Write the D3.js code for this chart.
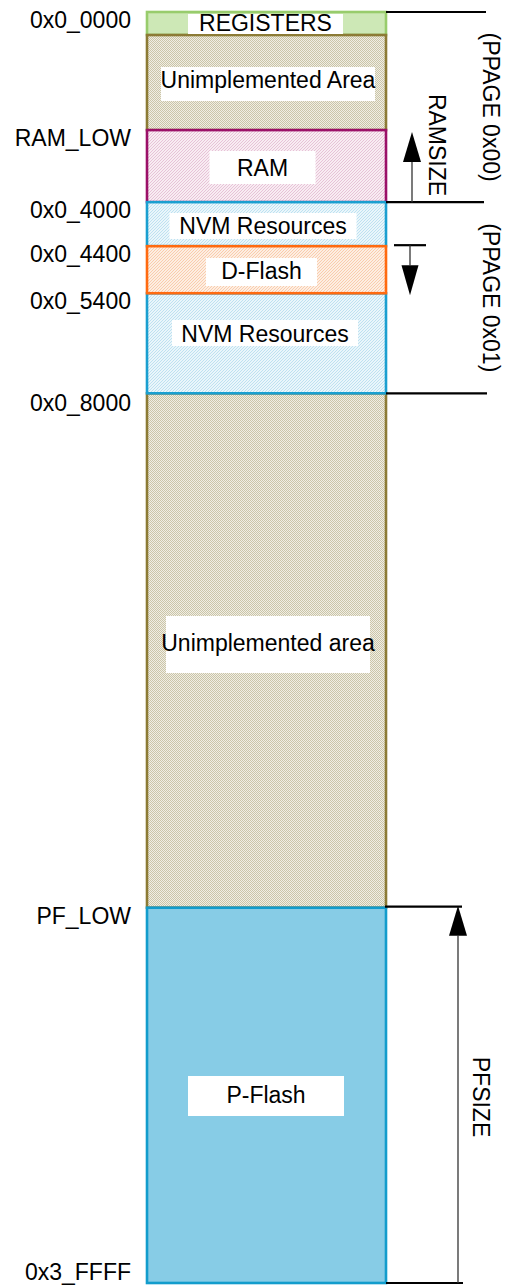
<!DOCTYPE html>
<html><head><meta charset="utf-8">
<script src="https://cdn.jsdelivr.net/npm/d3@7"></script>
<style>
html,body{margin:0;padding:0;background:#fff;}
text{font-family:"Liberation Sans",Arial,sans-serif;fill:#000;}
</style>
</head><body>
<svg id="c" width="511" height="1288"></svg>
<script>
// ---- data ----
const blockNames  = ["REGISTERS","Unimplemented Area","RAM","NVM Resources","D-Flash","NVM Resources","Unimplemented area","P-Flash"];
const blockSpans  = [23, 95, 72, 44, 47, 100, 514, 375];   // relative display span of each region
const blockKinds  = ["reg","unimp","ram","nvm","dflash","nvm","unimp","pflash"];
const addrLabels  = ["0x0_0000","RAM_LOW","0x0_4000","0x0_4400","0x0_5400","0x0_8000","PF_LOW","0x3_FFFF"];
const addrAt      = [0, 2, 3, 4, 5, 6, 7, 8];               // boundary index for each address label
const pageLabels  = ["(PPAGE 0x00)","(PPAGE 0x01)"];
const pageRanges  = [[0,3],[3,6]];
const sizeLabels  = ["RAMSIZE","PFSIZE"];

// ---- styles ----
const style = {
  reg:   {stroke:"#98cc6c", fill:"#cde8b6"},
  unimp: {stroke:"#8c7b35", fill:"url(#pUnimp)"},
  ram:   {stroke:"#9b1068", fill:"url(#pRam)"},
  nvm:   {stroke:"#1a9fd0", fill:"url(#pNvm)"},
  dflash:{stroke:"#ff6a10", fill:"url(#pDf)"},
  pflash:{stroke:"#129ccc", fill:"#87cce6"}
};
const labelBox = [
  {w:155,h:20,dy:-17},{w:214,h:34,dy:-21},{w:106,h:33,dy:-25},{w:187,h:26,dy:-21},
  {w:111,h:28,dy:-21},{w:186,h:26,dy:-22},{w:204,h:57,dy:-35},{w:156,h:40,dy:-27}
];
const labelCY = [31, 88, 176, 234, 279, 342, 651, 1103];
const FS = 23;

const svg = d3.select("#c");
const defs = svg.append("defs");
function checker(id,a,b){
  const p=defs.append("pattern").attr("id",id).attr("width",2).attr("height",2).attr("patternUnits","userSpaceOnUse");
  p.append("rect").attr("width",2).attr("height",2).attr("fill",a);
  p.append("rect").attr("width",1).attr("height",1).attr("fill",b);
  p.append("rect").attr("x",1).attr("y",1).attr("width",1).attr("height",1).attr("fill",b);
}
function diag(id,bg,fg){
  const p=defs.append("pattern").attr("id",id).attr("width",3).attr("height",3).attr("patternUnits","userSpaceOnUse");
  p.append("rect").attr("width",3).attr("height",3).attr("fill",bg);
  p.append("path").attr("d","M-1,1 L1,-1 M0,3 L3,0 M2,4 L4,2").attr("stroke",fg).attr("stroke-width",0.8);
}
checker("pUnimp","#f0eee4","#cbc5a8");
diag("pRam","#f8ecf2","#e2b8d0");
diag("pNvm","#eaf6fb","#b2dced");
diag("pDf","#fdeee2","#f7c39f");

// ---- scales ----
const cum=[0]; blockSpans.forEach(s=>cum.push(cum[cum.length-1]+s));
const y = d3.scaleLinear().domain([0,cum[cum.length-1]]).range([12,1283]);
const x = d3.scaleLinear().domain([0,1]).range([147,386]);

const blocks = blockNames.map((n,i)=>({name:n,kind:blockKinds[i],y0:cum[i],y1:cum[i+1],i}));

// draw blocks (draw so that later borders overlay correctly)
const order=[0,1,2,6,7,3,5,4];
svg.append("g").selectAll("rect").data(order.map(i=>blocks[i])).join("rect")
  .attr("x",x(0)).attr("y",d=>y(d.y0)).attr("width",x(1)-x(0)).attr("height",d=>y(d.y1)-y(d.y0))
  .attr("fill",d=>style[d.kind].fill).attr("stroke",d=>style[d.kind].stroke).attr("stroke-width",2.6);

// label boxes + text
const lg=svg.append("g");
const boxShift=[-1,1.5,-4,-3.5,-5,-1.5,1.5,-0.5];
blocks.forEach((d,i)=>{
  const cx=(x(0)+x(1))/2+boxShift[i];
  const b=labelBox[i];
  lg.append("rect").attr("x",cx-b.w/2).attr("y",labelCY[i]+b.dy).attr("width",b.w).attr("height",b.h).attr("fill","#fff");
  lg.append("text").attr("x",cx).attr("y",labelCY[i]).attr("text-anchor","middle")
    .attr("font-size",FS).text(d.name);
});

// address labels
svg.append("g").selectAll("text").data(addrLabels).join("text")
  .attr("x",131).attr("y",(d,i)=>{const v=y(cum[addrAt[i]]);return i===7? v-3 : (i===5? v+18 : v+16);})
  .attr("text-anchor","end").attr("font-size",FS).text(d=>d);

// right side boundary lines
const rl=svg.append("g").attr("stroke","#000").attr("stroke-width",2.2);
[[0,486],[3,484],[6,487]].forEach(([bi,xe])=>rl.append("line").attr("x1",386).attr("x2",xe).attr("y1",y(cum[bi])).attr("y2",y(cum[bi])));
rl.append("line").attr("x1",385).attr("x2",462).attr("y1",y(cum[7])-1).attr("y2",y(cum[7])-1);
rl.append("line").attr("x1",386).attr("x2",463).attr("y1",y(cum[8])).attr("y2",y(cum[8]));
rl.append("line").attr("x1",394).attr("x2",426).attr("y1",y(cum[4])-1).attr("y2",y(cum[4])-1);

// arrows
const ar=svg.append("g");
function arrowUp(cx,tip,base,bottom,hw){
  ar.append("line").attr("x1",cx).attr("x2",cx).attr("y1",base).attr("y2",bottom).attr("stroke","#333").attr("stroke-width",1.3);
  ar.append("path").attr("d",`M${cx},${tip}L${cx-hw},${base}L${cx+hw},${base}Z`).attr("fill","#000");
}
function arrowDown(cx,top,base,tip,hw){
  ar.append("line").attr("x1",cx).attr("x2",cx).attr("y1",top).attr("y2",base).attr("stroke","#333").attr("stroke-width",1.3);
  ar.append("path").attr("d",`M${cx},${tip}L${cx-hw},${base}L${cx+hw},${base}Z`).attr("fill","#000");
}
arrowUp(412, y(cum[2])+2, y(cum[2])+32, y(cum[3]), 9);
arrowDown(410, y(cum[4])-1, y(cum[4])+19, y(cum[4])+49, 8.5);
arrowUp(458, y(cum[7])-2, y(cum[7])+28, y(cum[8]), 9);

// rotated labels
function vtext(t,cx,cy,fs){
  svg.append("text").attr("transform",`translate(${cx},${cy}) rotate(90)`).attr("text-anchor","middle")
    .attr("dy","0.35em").attr("font-size",fs).text(t);
}
vtext(sizeLabels[0], 437, 145, FS);
vtext(sizeLabels[1], 481, 1097, FS);
pageLabels.forEach((t,i)=>{
  const cy=(y(cum[pageRanges[i][0]])+y(cum[pageRanges[i][1]]))/2;
  vtext(t, 491, cy, FS);
});
</script>
</body></html>
